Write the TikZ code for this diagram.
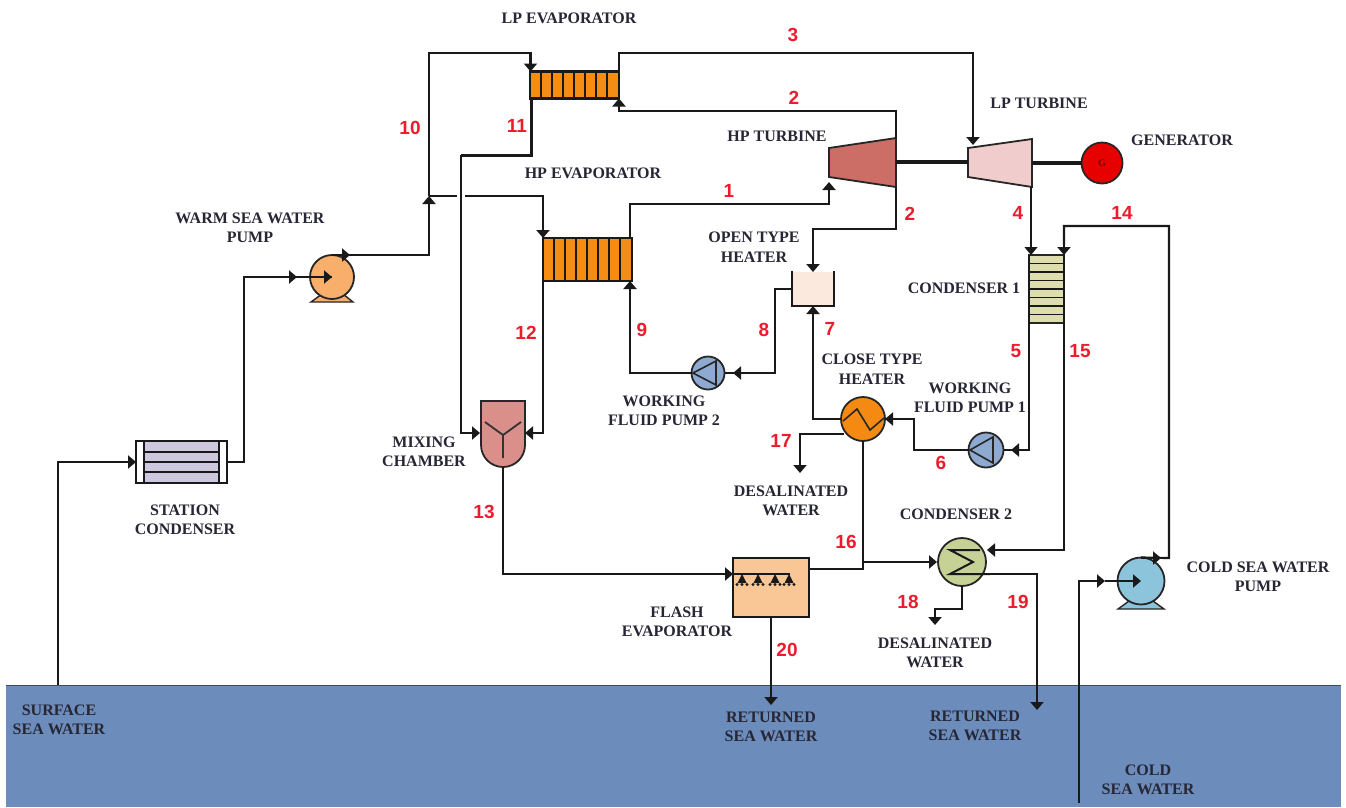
\documentclass[tikz,border=0pt]{standalone}
\usepackage{fontspec}
\setmainfont{Liberation Serif}
\newfontfamily\numfont{Liberation Sans}
\usetikzlibrary{arrows.meta}
\definecolor{sea}{RGB}{108,140,188}
\definecolor{ink}{RGB}{38,38,52}
\definecolor{numred}{RGB}{236,28,44}
\definecolor{cwp}{RGB}{247,175,107}
\definecolor{ccp}{RGB}{140,196,220}
\definecolor{cfp}{RGB}{143,170,208}
\definecolor{ccth}{RGB}{245,138,18}
\definecolor{cctwo}{RGB}{198,210,149}
\definecolor{cgen}{RGB}{230,0,0}
\definecolor{chpt}{RGB}{204,110,102}
\definecolor{clpt}{RGB}{241,204,204}
\definecolor{ccone}{RGB}{222,221,174}
\definecolor{coth}{RGB}{251,233,221}
\definecolor{cmix}{RGB}{219,143,138}
\definecolor{cfe}{RGB}{249,199,150}
\definecolor{cevap}{RGB}{245,140,20}
\definecolor{cstc}{RGB}{205,200,222}
\tikzset{
  x=1pt,y=-1pt,
  pipe/.style={draw=black!90,line width=2.2pt,line join=miter},
  flow/.style={pipe,-{Triangle[length=8pt,width=13pt]}},
  lab/.style={font=\bfseries\fontsize{16}{19.5}\selectfont,text=ink,align=center,inner sep=0pt},
  num/.style={font=\numfont\bfseries\fontsize{19}{20}\selectfont,text=numred,inner sep=0pt},
  box/.style={draw=black!90,line width=2.2pt,rectangle,inner sep=0pt,outer sep=0pt,minimum width=#1},
  rnd/.style={draw=black!85,line width=1.8pt,circle,inner sep=0pt,outer sep=0pt,minimum size=#1},
  thin inner/.style={draw=black!90,line width=1.3pt},
}
\begin{document}
\begin{tikzpicture}
\useasboundingbox (0,0) rectangle (1346,807);
\fill[white] (0,0) rectangle (1346,807);
% sea
\node[fill=sea,inner sep=0pt,outer sep=0pt,minimum width=1335pt,minimum height=122pt,anchor=north west] (seabox) at (6,685) {};
\draw[draw=sea!55!black,line width=1pt] (seabox.north west) -- (seabox.north east);

% equipment
\node[box=89pt,minimum height=27pt,fill=cevap,anchor=north west] (lpe) at (530,71.5) {};
\foreach \i in {1,...,7} \draw[thin inner] (530+\i*11,71.5) -- (530+\i*11,98.5);
\node[box=89pt,minimum height=43pt,fill=cevap,anchor=north west] (hpe) at (543,238) {};
\foreach \i in {1,...,7} \draw[thin inner] (543+\i*11,238) -- (543+\i*11,281);

\node[box=91pt,minimum height=42pt,fill=white,anchor=north west] (stc) at (136,441) {};
\fill[cstc] (144,442) rectangle (219,482);
\draw[thin inner,line width=1.7pt] (144,441) -- (144,483) (219,441) -- (219,483);
\draw[thin inner,line width=2pt] (144,452) -- (219,452) (144,462) -- (219,462) (144,472) -- (219,472);

% pumps with feet
\draw[fill=cwp,draw=black!85,line width=1.4pt] (311,302) -- (322,294) -- (343,294) -- (353,302) -- cycle;
\node[rnd=44pt,fill=cwp] (wp) at (332,277) {};
\draw[fill=ccp,draw=black!85,line width=1.4pt] (1118,609) -- (1129,601) -- (1153,601) -- (1164,609) -- cycle;
\node[rnd=47pt,fill=ccp] (cp) at (1141,581) {};

\node[rnd=33pt,fill=cfp] (fp2) at (708,373) {};
\draw[draw=black!85,line width=1.6pt] (693,373) -- (716,361) -- (716,385) -- cycle;
\node[rnd=35pt,fill=cfp] (fp1) at (986,450) {};
\draw[draw=black!85,line width=1.6pt] (970,450) -- (993,437) -- (993,463) -- cycle;

\node[rnd=44pt,fill=ccth] (cth) at (863,419) {};
\draw[draw=black!85,line width=1.6pt] (843,421) -- (857,409) -- (870,430) -- (884,418);

\node[rnd=48pt,fill=cctwo] (c2) at (962,562) {};
\draw[draw=black!90,line width=2pt] (980,550) -- (950,550) -- (973,562) -- (950,574) -- (990,574);

\node[rnd=41pt,fill=cgen,font=\bfseries\fontsize{10}{10}\selectfont,text=red!45!black] (gen) at (1102,163) {G};

% turbines
\coordinate (hptIn) at (829,182);
\coordinate (hptTop) at (896,138);
\coordinate (hptBot) at (896,187);
\coordinate (lptIn) at (973,145);
\coordinate (lptBot) at (1031,187);
\coordinate (lptR) at (1032,163);
\coordinate (hptR) at (896,162);
\coordinate (lptL) at (968,162);
\draw[fill=chpt,draw=black!85,line width=1.8pt] (829,148) -- (hptTop) -- (hptBot) -- (829,177) -- cycle;
\draw[fill=clpt,draw=black!85,line width=1.8pt] (968,148) -- (1032,139) -- (1032,187) -- (968,177) -- cycle;
\draw[pipe,line width=3.2pt] (hptR) -- (lptL);
\draw[pipe,line width=3.2pt] (lptR) -- (gen.west);

% condenser 1
\node[draw=black!85,line width=1.2pt,fill=ccone,inner sep=0pt,outer sep=0pt,minimum width=35pt,minimum height=68pt,anchor=north west] (c1) at (1029,255) {};
\foreach \i in {1,...,7} \draw[thin inner,line width=1.6pt] (1029,255+\i*8.5) -- (1064,255+\i*8.5);
\draw[pipe] (1029,255) -- (1029,323) (1064,255) -- (1064,323);

% open type heater
\fill[coth] (792,272) rectangle (834,306);
\coordinate (othL) at (792,289);
\coordinate (othB) at (813,306);
\coordinate (othT) at (813,272);
\draw[pipe,line width=1.8pt] (792,271) -- (792,306) -- (834,306) -- (834,271);

% mixing chamber
\coordinate (mixL) at (480,433);
\coordinate (mixR) at (525,433);
\coordinate (mixB) at (503,467);
\draw[fill=cmix,draw=black!85,line width=1.8pt] (481,401) -- (525,401) -- (525,445) arc[start angle=0,end angle=180,radius=22] -- cycle;
\draw[draw=black!80,line width=1.8pt] (485,422) -- (503,435) -- (521,422) (503,435) -- (503,458);

% flash evaporator
\node[box=76pt,minimum height=59pt,fill=cfe,anchor=north west] (fe) at (733,558) {};
\draw[pipe,line width=1.6pt] (733,574) -- (790,574);
\foreach \x in {742,758,775,789} {
  \fill[black!90] (\x-4.5,583) -- (\x,574) -- (\x+4.5,583) -- cycle;
  \fill[black!90] (\x-5,584.5) circle[radius=1.6pt] (\x,584.5) circle[radius=1.6pt] (\x+5,584.5) circle[radius=1.6pt];
}

% connector anchor points
\coordinate (surface) at (58,685);
\coordinate (coldsea) at (1079,803);
\coordinate (cta) at (1105,581);
\coordinate (wta) at (297,277);
\coordinate (wpTop) at (332,255);
\coordinate (wpMid) at (350,255);
\coordinate (cpTop) at (1141,558);
\coordinate (cpMid) at (1161,558);
\coordinate (j10) at (429,196);
\coordinate (j10b) at (429,205);
\coordinate (gapL) at (457,196);
\coordinate (gapR) at (465,196);
\coordinate (lpeIn) at (530.5,71.5);
\coordinate (hpeIn) at (543,238);
\coordinate (hpeOut) at (630,281);
\coordinate (hpeTop) at (630,238);
\coordinate (lpeBot) at (619,98.5);
\coordinate (lpeTop) at (619,71.5);
\coordinate (lpeBotL) at (531,98.5);
\coordinate (hpeBotL) at (543,281);
\coordinate (c1In) at (1031,255);
\coordinate (c1In2) at (1064,255);
\coordinate (c1Out) at (1029,323);
\coordinate (c1Out2) at (1064,323);
\coordinate (fp1arrow) at (1011,450);
\coordinate (fp2arrow) at (733,373);
\coordinate (c2In) at (937,562);
\coordinate (c2In2) at (987,550);
\coordinate (c2Out) at (990,574);
\coordinate (feOut) at (809,569);
\coordinate (feIn) at (733,574);
\coordinate (j16) at (863,562);
\coordinate (d17) at (800,473);
\coordinate (d18) at (935,625);
\coordinate (r19) at (1037,710);
\coordinate (r20) at (771,705);
\coordinate (cthL) at (844,434);

% connectors
\draw[flow] (surface) -- (58,462) -- (stc.west);
\draw[pipe] (stc.east) -- (244,462) -- (244,277) -- (wp.center);
\draw[flow] (244,277) -- (wta);
\draw[flow] (wta) -- (wp.center);
\draw[pipe] (wpTop) -- (429,255) -- (j10b);
\draw[flow] (wpTop) -- (wpMid);
\draw[flow] (429,215) -- (j10);
\draw[pipe] (j10) -- (429,53) -- (530.5,53) -- (530.5,66);
\draw[flow] (530.5,53) -- (lpeIn);
\draw[pipe] (j10) -- (gapL);
\draw[pipe] (gapR) -- (543,196) -- (543,220);
\draw[flow] (543,196) -- (hpeIn);
\draw[pipe,line width=3pt] (lpeBotL) -- (531,155) -- (461,155);
\draw[pipe] (461,155) -- (461,433) -- (470,433);
\draw[flow] (461,433) -- (mixL);
\draw[pipe] (hpeBotL) -- (543,433) -- (535,433);
\draw[flow] (543,433) -- (mixR);
\draw[pipe] (mixB) -- (503,574) -- (720,574);
\draw[flow] (503,574) -- (feIn);
\draw[pipe] (lpeTop) -- (619,53) -- (973,53) -- (973,130);
\draw[flow] (973,53) -- (lptIn);
\draw[pipe] (hptTop) -- (896,111) -- (619,111) -- (619,105);
\draw[flow] (619,111) -- (lpeBot);
\draw[pipe] (hptBot) -- (896,229) -- (813,229) -- (813,262);
\draw[flow] (813,229) -- (othT);
\draw[pipe] (hpeTop) -- (630,204) -- (829,204) -- (829,192);
\draw[flow] (829,204) -- (hptIn);
\draw[pipe] (fp2.west) -- (630,373) -- (630,292);
\draw[flow] (630,373) -- (hpeOut);
\draw[pipe] (fp2.east) -- (775,373) -- (775,289) -- (othL);
\draw[flow] (775,373) -- (fp2arrow);
\draw[pipe] (cth.west) -- (813,419) -- (813,315);
\draw[flow] (813,419) -- (othB);
\draw[pipe] (cthL) -- (800,434) -- (800,465);
\draw[flow] (800,434) -- (d17);
\draw[pipe] (fp1.west) -- (914,450) -- (914,419) -- (895,419);
\draw[flow] (914,419) -- (cth.east);
\draw[pipe] (c1Out) -- (1029,450) -- (fp1.east);
\draw[flow] (1029,450) -- (fp1arrow);
\draw[pipe,line width=1.3pt] (lptBot) -- (1031,245);
\draw[flow,line width=1.3pt] (1031,225) -- (c1In);
\draw[pipe] (cp.north) -- (1169,558) -- (1169,226) -- (1064,226) -- (1064,245);
\draw[flow] (1064,226) -- (c1In2);
\draw[flow] (cpTop) -- (cpMid);
\draw[pipe] (c1Out2) -- (1064,550) -- (997,550);
\draw[flow] (1064,550) -- (c2In2);
\draw[pipe] (cth.south) -- (863,569) -- (feOut);
\draw[flow] (j16) -- (c2In);
\draw[pipe] (c2.south) -- (962,609) -- (935,609) -- (935,618);
\draw[flow] (935,609) -- (d18);
\draw[pipe] (c2Out) -- (1037,574) -- (1037,700);
\draw[flow] (1037,574) -- (r19);
\draw[flow] (fe.south) -- (r20);
\draw[pipe] (coldsea) -- (1079,581) -- (1095,581);
\draw[flow] (1079,581) -- (cta);
\draw[flow] (cta) -- (cp.center);

% labels
\node[lab] (t1) at (569,18) {LP EVAPORATOR};
\node[lab] (t2) at (777,136) {HP TURBINE};
\node[lab] (t3) at (593,173) {HP EVAPORATOR};
\node[lab] (t4) at (1039,103) {LP TURBINE};
\node[lab] (t5) at (1182,140) {GENERATOR};
\node[lab] (t6) at (754,247) {OPEN TYPE\\HEATER};
\node[lab] (t7) at (250,228) {WARM SEA WATER\\PUMP};
\node[lab] (t8) at (964,288) {CONDENSER 1};
\node[lab] (t9) at (872,369) {CLOSE TYPE\\HEATER};
\node[lab] (t10) at (970,398) {WORKING\\FLUID PUMP 1};
\node[lab] (t11) at (664,411) {WORKING\\FLUID PUMP 2};
\node[lab] (t12) at (424,452) {MIXING\\CHAMBER};
\node[lab] (t13) at (185,520) {STATION\\CONDENSER};
\node[lab] (t14) at (791,501) {DESALINATED\\WATER};
\node[lab] (t15) at (956,514) {CONDENSER 2};
\node[lab] (t16) at (677,622) {FLASH\\EVAPORATOR};
\node[lab] (t17) at (935,653) {DESALINATED\\WATER};
\node[lab] (t18) at (1258,577) {COLD SEA WATER\\PUMP};
\node[lab] (t19) at (771,727) {RETURNED\\SEA WATER};
\node[lab] (t20) at (975,726) {RETURNED\\SEA WATER};
\node[lab] (t21) at (59,720) {SURFACE\\SEA WATER};
\node[lab] (t22) at (1148,780) {COLD\\SEA WATER};

% numbers
\node[num] (n3) at (793,35) {3};
\node[num] (n2a) at (794,98) {2};
\node[num] (n1) at (729,191) {1};
\node[num] (n10) at (410,128) {10};
\node[num] (n11) at (517,126) {11};
\node[num] (n12) at (526,333) {12};
\node[num] (n9) at (642,330) {9};
\node[num] (n8) at (764,330) {8};
\node[num] (n2b) at (910,214) {2};
\node[num] (n4) at (1018,213) {4};
\node[num] (n14) at (1122,213) {14};
\node[num] (n7) at (830,329) {7};
\node[num] (n5) at (1016,351) {5};
\node[num] (n15) at (1080,351) {15};
\node[num] (n6) at (941,463) {6};
\node[num] (n17) at (781,441) {17};
\node[num] (n13) at (484,512) {13};
\node[num] (n16) at (846,542) {16};
\node[num] (n18) at (908,602) {18};
\node[num] (n19) at (1018,602) {19};
\node[num] (n20) at (787,650) {20};
\end{tikzpicture}
\end{document}
